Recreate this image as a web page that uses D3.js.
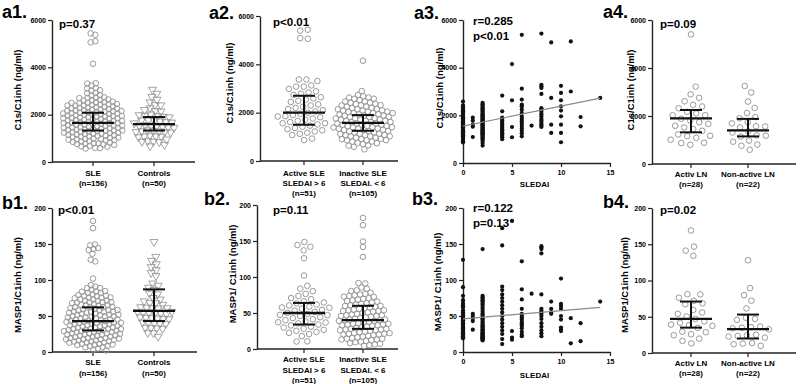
<!DOCTYPE html>
<html><head><meta charset="utf-8">
<script src="https://cdn.jsdelivr.net/npm/d3@7"></script>
<style>
body{margin:0;background:#fff;}
text{font-family:"Liberation Sans",Arial,sans-serif;font-weight:bold;}
</style></head>
<body><svg id="c" width="800" height="384"></svg>
<script>
// ---------- DATA ----------
const sledaiLevels = [0, 1, 2, 4, 5, 6, 7, 8, 9, 10, 11, 12, 14];
const c1sByLevel = [
  [2580,2420,2330,2280,2210,2170,2120,2060,2010,1970,1920,1880,1850,1810,1770,1740,1700,1690,1650,1620,1590,1560,1540,1500,1470,1430,1400,1360,1330,1290,1240,1200,1160,1110,1060,1010,960,910,860],
  [1900,1780,1620,1520,1090],
  [2520,2460,2400,2350,2300,2240,2190,2150,2100,2050,2000,1960,1910,1870,1830,1790,1750,1710,1680,1640,1600,1570,1530,1490,1450,1410,1370,1330,1290,1250,1210,1170,1130,1080,1030,980,920,840,730],
  [2830,2170,1900,1850,1780,1720,1650,1600,1550,1480,1420,1370,1300,1250,1200,1130,1080,1000],
  [4150,2630,1510,1080],
  [5380,3120,2660,2450,2380,2250,2100,1950,1850,1750,1650,1550,1450,1350,1250,1120],
  [1570],
  [5430,3280,3220,3150,2900,2300,2250,2150,2050,1950,1850,1780,1700,1620,1560,1510],
  [5060,2730,1610,1260],
  [3240,2940,2630,2380,2200,1960,1610,1260,870],
  [5100,3000],
  [1930,1540],
  [2730]
];
const masp1ByLevel = [
  [128,90,78,72,68,65,62,58,55,53,51,49,47,46,44,43,41,40,39,38,36,35,34,33,32,31,30,29,28,27,26,25,24,23,22,21,21,20,19],
  [53,50,47,43,31],
  [143,78,76,74,72,70,68,66,63,60,57,54,52,50,47,45,43,41,39,37,35,34,32,31,30,28,27,26,25,24,23,22,21,20,19,19,18,17,16],
  [172,148,91,86,80,75,70,65,60,55,50,45,40,35,30,25,18,11],
  [182,29,20,17],
  [126,87,73,60,53,50,48,45,42,40,38,36,33,28,24,22],
  [81],
  [147,145,143,137,80,60,57,55,53,50,46,40,35,30,26,22],
  [70,60,55,53],
  [102,67,64,60,50,45,34,31,29],
  [47,12],
  [40,15],
  [70]
];
const controlsC1s = [3050,2900,2750,2600,2500,2400,2300,2200,2150,2100,2050,2000,1950,1900,1870,1840,1800,1760,1720,1690,1660,1630,1610,1600,1590,1570,1550,1520,1500,1470,1440,1410,1380,1350,1330,1310,1280,1250,1220,1180,1150,1100,1060,1020,980,940,900,870,850,820];
const controlsMasp1 = [153,132,127,122,118,114,110,106,95,92,88,86,82,78,75,72,70,67,65,63,61,60,59,58,57,57,56,55,54,53,52,51,50,49,48,47,46,45,44,43,42,41,40,39,38,36,34,31,26,22];
const activeLNC1s = [5400,3180,2900,2700,2650,2300,2280,2250,2200,2150,2000,1950,1850,1800,1650,1600,1500,1450,1400,1350,1300,1280,1250,1200,1100,1050,1000,990];
const nonActiveLNC1s = [3230,3000,2600,2300,2000,1880,1850,1700,1650,1500,1450,1400,1350,1300,1250,1200,1150,1100,1000,950,900,750];
const activeLNMasp1 = [169,145,141,136,79,77,75,72,70,69,60,56,50,45,43,41,40,39,38,37,36,35,33,30,26,22,18,15];
const nonActiveLNMasp1 = [128,89,80,72,62,48,45,40,37,35,34,32,30,27,25,22,20,19,18,17,16,16];

// median, Q1, Q3
const statsA1 = [[1650,1330,2080],[1600,1330,1900]];
const statsA2 = [[2000,1500,2700],[1580,1250,1900]];
const statsA4 = [[1900,1320,2250],[1400,1150,1880]];
const statsB1 = [[43,30,62],[57,43,87]];
const statsB2 = [[50,34,64],[40,28,60]];
const statsB4 = [[47,35,71],[33,20,53]];

const regA3 = [[0,1550],[14,2720]];
const regB3 = [[0,46],[14,62]];

const c1sTicks = [0,2000,4000,6000];
const maspTicks = [0,50,100,150,200];
const sledaiTicks = [0,5,10,15];

const labelsSLEvsCtrl = [["SLE","(n=156)"],["Controls","(n=50)"]];
const labelsActivity = [["Active SLE","SLEDAI > 6","(n=51)"],["Inactive SLE","SLEDAI. < 6","(n=105)"]];
const labelsLN = [["Activ LN","(n=28)"],["Non-active LN","(n=22)"]];

// ---------- DERIVED ----------
const pairs = [];
sledaiLevels.forEach((s,i)=>{ c1sByLevel[i].forEach((v,j)=>pairs.push({s, c1s:v, masp:masp1ByLevel[i][j]})); });
const sleC1s = pairs.map(p=>p.c1s), sleMasp = pairs.map(p=>p.masp);
const actC1s = pairs.filter(p=>p.s>=6).map(p=>p.c1s), inactC1s = pairs.filter(p=>p.s<6).map(p=>p.c1s);
const actMasp = pairs.filter(p=>p.s>=6).map(p=>p.masp), inactMasp = pairs.filter(p=>p.s<6).map(p=>p.masp);

const svg = d3.select("#c");
const INK = "#000", GREY = "#9a9a9a";

function txt(x,y,s,size,anchor){
  return svg.append("text").attr("x",x).attr("y",y).attr("font-size",size).attr("fill",INK)
    .attr("text-anchor",anchor||"start").text(s);
}
function styleAxis(g){
  g.select(".domain").attr("stroke","#222").attr("stroke-width",1.4);
  g.selectAll(".tick line").attr("stroke","#222").attr("stroke-width",1.2);
  g.selectAll(".tick text").attr("font-size",7).attr("fill",INK).attr("font-family","Liberation Sans, Arial").attr("font-weight","bold");
}

function yAxisPanel(p){
  const y = d3.scaleLinear().domain([0,p.max]).range([p.y0,p.y1]);
  const g = svg.append("g").attr("transform",`translate(${p.ax},0)`)
    .call(d3.axisLeft(y).tickValues(p.ticks).tickFormat(d3.format("d")).tickSize(4).tickSizeOuter(0).tickPadding(2));
  styleAxis(g);
  svg.append("text").attr("transform",`translate(${p.tx},${p.ty}) rotate(-90)`).attr("fill",INK)
    .attr("text-anchor","middle").attr("font-size",9.5).text(p.title);
  txt(p.lx,p.ly,p.label,18);
  p.ptext.forEach((t,i)=>txt(p.px,p.py+i*14.5,t,11.5));
  return y;
}

function swarmPanel(p){
  const y = yAxisPanel(p);
  const x = d3.scalePoint().domain(p.groups.map((g,i)=>i)).range([p.c0,p.c1]);
  svg.append("line").attr("x1",p.ax).attr("x2",p.xEnd).attr("y1",p.y0).attr("y2",p.y0).attr("stroke","#222").attr("stroke-width",1.4);
  p.groups.forEach((gr,i)=>{
    const cx = x(i);
    svg.append("line").attr("x1",cx).attr("x2",cx).attr("y1",p.y0).attr("y2",p.y0+4).attr("stroke","#222").attr("stroke-width",1.2);
    gr.labels.forEach((t,k)=>txt(cx,p.labY+k*p.labDy,t,8,"middle"));
    const r = gr.tri ? 3.0 : 2.8;
    const nodes = gr.values.map((v,k)=>({v, x:cx+(k%2?0.5:-0.5), y:y(v)}));
    const sim = d3.forceSimulation(nodes)
      .force("x", d3.forceX(cx).strength(0.15))
      .force("y", d3.forceY(d=>y(d.v)).strength(1))
      .force("c", d3.forceCollide(gr.spread).iterations(2))
      .stop();
    for(let k=0;k<300;k++) sim.tick();
    const g = svg.append("g");
    if(gr.tri){
      const sym = d3.symbol().type(d3.symbolTriangle).size(28);
      g.selectAll("path").data(nodes).join("path").attr("d",sym)
        .attr("transform",d=>`translate(${d.x},${d.y}) rotate(180)`)
        .attr("fill","none").attr("stroke",GREY).attr("stroke-width",0.9);
    } else {
      g.selectAll("circle").data(nodes).join("circle").attr("cx",d=>d.x).attr("cy",d=>d.y).attr("r",r)
        .attr("fill","none").attr("stroke",GREY).attr("stroke-width",1);
    }
    const [med,q1,q3] = gr.stats;
    const eb = svg.append("g").attr("stroke","#111").attr("stroke-width",2);
    eb.append("line").attr("x1",cx).attr("x2",cx).attr("y1",y(q1)).attr("y2",y(q3));
    eb.append("line").attr("x1",cx-11).attr("x2",cx+11).attr("y1",y(q1)).attr("y2",y(q1));
    eb.append("line").attr("x1",cx-11).attr("x2",cx+11).attr("y1",y(q3)).attr("y2",y(q3));
    eb.append("line").attr("x1",cx-21).attr("x2",cx+21).attr("y1",y(med)).attr("y2",y(med)).attr("stroke-width",2.3);
  });
}

function scatterPanel(p){
  const y = yAxisPanel(p);
  const x = d3.scaleLinear().domain([0,15]).range([p.ax,p.xEnd]);
  const g = svg.append("g").attr("transform",`translate(0,${p.y0})`)
    .call(d3.axisBottom(x).tickValues(sledaiTicks).tickSize(4).tickSizeOuter(0).tickPadding(3));
  styleAxis(g);
  txt((p.ax+p.xEnd)/2-2,p.labY,"SLEDAI",8,"middle");
  svg.append("g").selectAll("circle").data(p.points).join("circle")
    .attr("cx",d=>x(d[0])).attr("cy",d=>y(d[1])).attr("r",2.1).attr("fill","#111");
  svg.append("line").attr("x1",x(p.reg[0][0])).attr("y1",y(p.reg[0][1])).attr("x2",x(p.reg[1][0])).attr("y2",y(p.reg[1][1]))
    .attr("stroke","#8a8a8a").attr("stroke-width",1.2);
}

// ---------- PANELS ----------
swarmPanel({ax:52,y0:162,y1:20,max:6000,ticks:c1sTicks,c0:93,c1:154,xEnd:195,
  title:"C1s/C1inh (ng/ml)",tx:21,ty:90,label:"a1.",lx:2,ly:18,ptext:["p=0.37"],px:59,py:28,labY:176,labDy:10,
  groups:[{values:sleC1s,stats:statsA1[0],labels:labelsSLEvsCtrl[0],spread:2.4},{values:controlsC1s,stats:statsA1[1],labels:labelsSLEvsCtrl[1],tri:true,spread:2.9}]});
swarmPanel({ax:260,y0:161,y1:16,max:6000,ticks:c1sTicks,c0:304,c1:363,xEnd:398,
  title:"C1s/C1inh (ng/ml)",tx:233,ty:83,label:"a2.",lx:209,ly:19,ptext:["p<0.01"],px:273,py:26,labY:176,labDy:10,
  groups:[{values:actC1s,stats:statsA2[0],labels:labelsActivity[0],spread:3.8},{values:inactC1s,stats:statsA2[1],labels:labelsActivity[1],spread:2.7}]});
scatterPanel({ax:463,y0:163,y1:20,max:6000,ticks:c1sTicks,xEnd:610,
  title:"C1s/C1inh (ng/ml)",tx:443,ty:88,label:"a3.",lx:414,ly:19,ptext:["r=0.285","p<0.01"],px:473,py:25,labY:187,
  points:pairs.map(p=>[p.s,p.c1s]),reg:regA3});
swarmPanel({ax:652,y0:164,y1:20,max:6000,ticks:c1sTicks,c0:691,c1:748,xEnd:796,
  title:"C1s/C1inh (ng/ml)",tx:634,ty:90,label:"a4.",lx:603,ly:18,ptext:["p=0.09"],px:660,py:28,labY:177,labDy:10,
  groups:[{values:activeLNC1s,stats:statsA4[0],labels:labelsLN[0],spread:4.6},{values:nonActiveLNC1s,stats:statsA4[1],labels:labelsLN[1],spread:4.6}]});

swarmPanel({ax:52,y0:352,y1:208,max:200,ticks:maspTicks,c0:93,c1:154,xEnd:197,
  title:"MASP1/C1inh (ng/ml)",tx:21,ty:285,label:"b1.",lx:2,ly:209,ptext:["p<0.01"],px:58,py:214,labY:365,labDy:11,
  groups:[{values:sleMasp,stats:statsB1[0],labels:labelsSLEvsCtrl[0],spread:2.4},{values:controlsMasp1,stats:statsB1[1],labels:labelsSLEvsCtrl[1],tri:true,spread:2.9}]});
swarmPanel({ax:257,y0:349,y1:205,max:200,ticks:maspTicks,c0:304,c1:363,xEnd:398,
  title:"MASP1/ C1inh (ng/ml)",tx:236,ty:274,label:"b2.",lx:204,ly:205,ptext:["p=0.11"],px:273,py:214,labY:362,labDy:10.5,
  groups:[{values:actMasp,stats:statsB2[0],labels:labelsActivity[0],spread:3.8},{values:inactMasp,stats:statsB2[1],labels:labelsActivity[1],spread:2.7}]});
scatterPanel({ax:463,y0:352,y1:208,max:200,ticks:maspTicks,xEnd:610,
  title:"MASP1/ C1inh (ng/ml)",tx:441,ty:282,label:"b3.",lx:412,ly:205,ptext:["r=0.122","p=0.13"],px:473,py:212,labY:378,
  points:pairs.map(p=>[p.s,p.masp]),reg:regB3});
swarmPanel({ax:652,y0:353,y1:208,max:200,ticks:maspTicks,c0:691,c1:748,xEnd:796,
  title:"MASP1/C1inh (ng/ml)",tx:628,ty:285,label:"b4.",lx:603,ly:208,ptext:["p=0.02"],px:660,py:214,labY:366,labDy:10,
  groups:[{values:activeLNMasp1,stats:statsB4[0],labels:labelsLN[0],spread:4.6},{values:nonActiveLNMasp1,stats:statsB4[1],labels:labelsLN[1],spread:4.6}]});
</script></body></html>
